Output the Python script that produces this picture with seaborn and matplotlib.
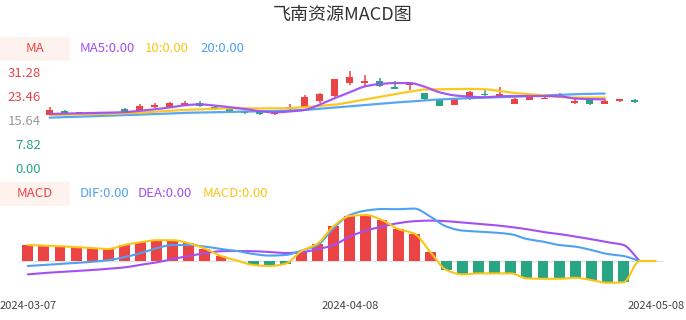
import numpy as np
import pandas as pd
import matplotlib
matplotlib.use("Agg")
import matplotlib.pyplot as plt
from matplotlib.patches import Rectangle
import seaborn as sns

# ---------------- data ----------------
title = "飞南资源MACD图"
dates = ["2024-03-07", "2024-03-08", "2024-03-11", "2024-03-12", "2024-03-13", "2024-03-14",
         "2024-03-15", "2024-03-18", "2024-03-19", "2024-03-20", "2024-03-21", "2024-03-22",
         "2024-03-25", "2024-03-26", "2024-03-27", "2024-03-28", "2024-03-29", "2024-04-01",
         "2024-04-02", "2024-04-03", "2024-04-08", "2024-04-09", "2024-04-10", "2024-04-11",
         "2024-04-12", "2024-04-15", "2024-04-16", "2024-04-17", "2024-04-18", "2024-04-19",
         "2024-04-22", "2024-04-23", "2024-04-24", "2024-04-25", "2024-04-26", "2024-04-29",
         "2024-04-30", "2024-05-06", "2024-05-07", "2024-05-08"]
open_ = [17.16, 18.55, 17.80, 18.00, 18.10, 19.20, 18.65, 19.85, 19.85, 20.40,
         21.25, 19.95, 19.30, 18.55, 18.20, 17.50, 19.10, 19.95, 21.90, 23.50,
         27.60, 27.60, 28.40, 26.30, 27.10, 24.30, 22.35, 20.50, 22.35, 24.15,
         23.40, 20.90, 22.20, 22.45, 23.40, 21.15, 22.35, 20.90, 21.80, 22.10]
close = [18.88, 17.80, 18.20, 18.10, 18.00, 18.20, 20.20, 20.60, 21.15, 21.15,
         20.20, 19.10, 18.20, 18.00, 17.50, 18.30, 19.85, 23.00, 24.05, 28.80,
         29.50, 28.30, 26.75, 25.80, 27.60, 22.45, 20.30, 22.35, 24.60, 23.60,
         24.15, 22.45, 23.10, 22.85, 24.00, 21.90, 20.80, 21.90, 22.35, 21.55]
high = [19.95, 18.75, 18.30, 18.20, 18.20, 19.50, 20.90, 21.20, 21.50, 21.80,
        21.80, 20.10, 19.40, 18.70, 18.30, 18.40, 20.80, 23.70, 24.40, 28.90,
        31.50, 30.20, 29.10, 28.40, 27.70, 24.50, 22.50, 22.50, 25.00, 25.60,
        26.20, 22.60, 23.20, 23.00, 24.50, 22.30, 22.50, 22.00, 22.50, 22.40]
low = [17.00, 17.65, 17.70, 17.90, 17.90, 18.00, 18.50, 19.50, 19.70, 20.30,
       20.00, 18.90, 18.00, 17.70, 17.40, 17.40, 19.00, 19.80, 21.25, 23.00,
       26.90, 26.80, 26.20, 25.70, 25.35, 21.90, 20.20, 20.40, 22.00, 23.50,
       23.30, 20.80, 22.10, 22.30, 23.30, 20.80, 20.60, 20.80, 21.60, 21.30]
nan = np.nan
ma5 = [17.6, 17.7, 17.8, 17.9, 18.0, 18.2, 18.6, 19.1, 19.7, 20.4,
       20.7, 20.3, 19.8, 19.2, 18.5, 18.1, 18.4, 18.9, 20.6, 22.7,
       24.6, 26.5, 27.3, 27.6, 27.6, 26.4, 24.6, 23.6, 23.2, 23.0,
       23.3, 23.4, 23.4, 23.4, 23.3, 22.6, 22.4, 22.3, nan, nan]
ma10 = [17.25, 17.35, 17.45, 17.55, 17.65, 17.8, 18.0, 18.3, 18.6, 18.9,
        19.1, 19.3, 19.4, 19.4, 19.4, 19.4, 19.5, 19.8, 20.2, 20.6,
        21.4, 22.3, 23.1, 24.0, 24.8, 25.5, 25.6, 25.7, 25.7, 25.6,
        25.0, 24.4, 24.0, 23.6, 23.1, 22.9, 22.9, 22.9, nan, nan]
ma20 = [16.4, 16.55, 16.7, 16.9, 17.05, 17.2, 17.4, 17.55, 17.75, 17.95,
        18.05, 18.15, 18.25, 18.35, 18.45, 18.55, 18.7, 18.9, 19.3, 19.7,
        20.1, 20.5, 20.9, 21.3, 21.6, 22.0, 22.3, 22.5, 22.7, 22.9,
        23.0, 23.2, 23.4, 23.6, 23.8, 24.0, 24.1, 24.2, nan, nan]
macd = [0.80, 0.77, 0.74, 0.69, 0.64, 0.60, 0.80, 0.94, 1.04, 1.04,
        0.89, 0.62, 0.25, 0.02, -0.20, -0.25, -0.14, 0.50, 0.87, 1.75,
        2.25, 2.30, 2.05, 1.60, 1.37, 0.45, -0.45, -0.67, -0.62, -0.62,
        -0.62, -0.87, -0.89, -0.89, -0.84, -0.95, -1.09, -1.07, 0.00, 0.00]
dif = [-0.25, -0.20, -0.15, -0.10, -0.04, 0.04, 0.19, 0.39, 0.64, 0.80,
       0.80, 0.72, 0.60, 0.50, 0.35, 0.27, 0.30, 0.52, 0.80, 1.65,
       2.30, 2.52, 2.60, 2.59, 2.62, 2.22, 1.72, 1.52, 1.47, 1.42,
       1.34, 1.10, 0.97, 0.80, 0.72, 0.55, 0.35, 0.25, 0.00, nan]
dea = [-0.67, -0.60, -0.55, -0.50, -0.45, -0.39, -0.32, -0.19, -0.07, 0.10,
       0.25, 0.39, 0.49, 0.50, 0.49, 0.45, 0.40, 0.44, 0.59, 0.80,
       1.22, 1.52, 1.72, 1.89, 1.99, 2.02, 1.99, 1.92, 1.85, 1.79,
       1.70, 1.59, 1.45, 1.35, 1.22, 1.09, 0.94, 0.80, 0.00, nan]
yticks = [0.00, 7.82, 15.64, 23.46, 31.28]
xtick_idx = [0, 20, 39]

# ---------------- style ----------------
sns.set_theme(style="white")
plt.rcParams["font.family"] = ["Noto Sans CJK SC", "DejaVu Sans"]

RED = "#ec4444"
GREEN = "#29a585"
PURPLE = "#a34ff2"
YELLOW = "#fcc514"
BLUE = "#4fa2f3"
BOX = "#fdf2ee"

W, H = 686, 320
fig = plt.figure(figsize=(W / 100, H / 100), dpi=100)


def fx(px):
    return px / W


def fy(py):
    return 1 - py / H


def smooth(xs, ys, n=10):
    """Monotone cubic (Fritsch-Carlson) drawing path through the points (rendering only)."""
    xs = np.asarray(xs, float)
    ys = np.asarray(ys, float)
    m = ~np.isnan(ys)
    x, y = xs[m], ys[m]
    k = len(x)
    if k < 3:
        return x, y
    h = np.diff(x)
    d = np.diff(y) / h
    t = np.zeros(k)
    t[0], t[-1] = d[0], d[-1]
    for i in range(1, k - 1):
        if d[i - 1] * d[i] <= 0:
            t[i] = 0.0
        else:
            w1 = 2 * h[i] + h[i - 1]
            w2 = h[i] + 2 * h[i - 1]
            t[i] = (w1 + w2) / (w1 / d[i - 1] + w2 / d[i])
    ox, oy = [], []
    for i in range(k - 1):
        s = np.linspace(0, 1, n, endpoint=False)
        h00 = 2 * s ** 3 - 3 * s ** 2 + 1
        h10 = s ** 3 - 2 * s ** 2 + s
        h01 = -2 * s ** 3 + 3 * s ** 2
        h11 = s ** 3 - s ** 2
        ox.append(x[i] + s * h[i])
        oy.append(h00 * y[i] + h10 * h[i] * t[i] + h01 * y[i + 1] + h11 * h[i] * t[i + 1])
    ox.append([x[-1]])
    oy.append([y[-1]])
    return np.concatenate(ox), np.concatenate(oy)


idx = np.arange(len(dates))
df = pd.DataFrame({"i": idx, "open": open_, "close": close, "high": high, "low": low,
                   "ma5": ma5, "ma10": ma10, "ma20": ma20,
                   "macd": macd, "dif": dif, "dea": dea})

# ---------------- title ----------------
fig.text(0.5, fy(15), title, ha="center", va="center", fontsize=13, color="#333333")

# ---------------- candle panel ----------------
ax1 = fig.add_axes([fx(42.2), fy(168.3), fx(600), 108.1 / H])
ax1.set_xlim(-0.5, len(dates) - 0.5)
ax1.set_ylim(0, 35)
up = df["close"] >= df["open"]
colors = np.where(up, RED, GREEN)
ax1.vlines(df["i"], df["low"], df["high"], colors=colors, linewidth=1.1, zorder=2)
ax1.bar(df["i"], df["close"] - df["open"], bottom=df["open"], width=0.5,
        color=colors, linewidth=0, zorder=3)
for col, c in [("ma20", BLUE), ("ma10", YELLOW), ("ma5", PURPLE)]:
    sx, sy = smooth(df["i"], df[col])
    sns.lineplot(x=sx, y=sy, ax=ax1, color=c, linewidth=1.6, sort=False,
                 estimator=None, zorder=4, alpha=0.95)
ax1.set_xticks([])
ax1.set_yticks(yticks)
ax1.set_yticklabels([f"{v:.2f}" for v in yticks], fontsize=9.5)
tick_cols = [GREEN, GREEN, "#9a9a9a", RED, RED]
for lab, c in zip(ax1.get_yticklabels(), tick_cols):
    lab.set_color(c)
ax1.tick_params(axis="y", length=0, pad=1)
for s in ax1.spines.values():
    s.set_visible(False)
ax1.patch.set_alpha(0)

# ---------------- MACD panel ----------------
ax2 = fig.add_axes([fx(19.75), fy(290), fx(644), 90 / H])
ax2.set_xlim(-0.5, len(dates) - 0.5)
ax2.set_ylim(-1.45, 3.05)
ax2.axhline(0, color="#e2e2e2", linewidth=1, zorder=1)
bcol = np.where(df["macd"] >= 0, RED, GREEN)
ax2.bar(df["i"], df["macd"], width=0.68, color=bcol, linewidth=0, zorder=2)
for col, c in [("dea", PURPLE), ("dif", BLUE), ("macd", YELLOW)]:
    sx, sy = smooth(df["i"], df[col])
    sns.lineplot(x=sx, y=sy, ax=ax2, color=c, linewidth=1.5, sort=False,
                 estimator=None, zorder=4)
ax2.set_yticks([])
ax2.set_xticks(xtick_idx)
ax2.set_xticklabels([dates[k] for k in xtick_idx], fontsize=8, color="#444444")
ax2.tick_params(axis="x", length=0, pad=8)
for s in ax2.spines.values():
    s.set_visible(False)
ax2.patch.set_alpha(0)
ax2.set_xlabel("")
ax2.set_ylabel("")

# ---------------- header boxes / legends ----------------
fig.patches.append(Rectangle((0, fy(61)), fx(70), 24 / H, transform=fig.transFigure,
                             facecolor=BOX, edgecolor="none", zorder=0))
fig.text(fx(35), fy(48.7), "MA", ha="center", va="center", fontsize=9.5, color=RED)
fig.text(fx(80), fy(48.5), "MA5:0.00", ha="left", va="center", fontsize=9.5, color=PURPLE)
fig.text(fx(145), fy(48.5), "10:0.00", ha="left", va="center", fontsize=9.5, color=YELLOW)
fig.text(fx(200), fy(48.5), "20:0.00", ha="left", va="center", fontsize=9.5, color=BLUE)

fig.patches.append(Rectangle((0, fy(205.7)), fx(70), 24 / H, transform=fig.transFigure,
                             facecolor=BOX, edgecolor="none", zorder=0))
fig.text(fx(35), fy(193.5), "MACD", ha="center", va="center", fontsize=9.5, color=RED)
fig.text(fx(80), fy(193.5), "DIF:0.00", ha="left", va="center", fontsize=9.5, color=BLUE)
fig.text(fx(138), fy(193.5), "DEA:0.00", ha="left", va="center", fontsize=9.5, color=PURPLE)
fig.text(fx(203), fy(193.5), "MACD:0.00", ha="left", va="center", fontsize=9.5, color=YELLOW)

fig.savefig("out.png", dpi=100, facecolor="white")
